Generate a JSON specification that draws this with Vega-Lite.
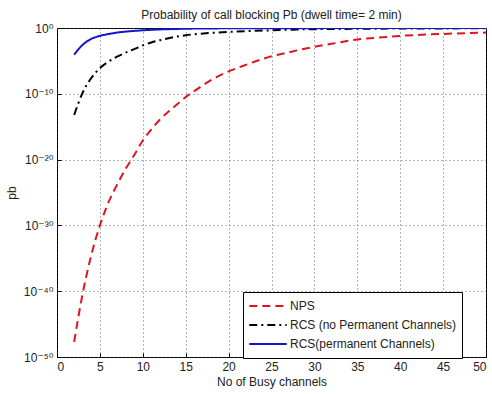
{
  "$schema": "https://vega.github.io/schema/vega-lite/v6.json",
  "autosize": "none",
  "width": 429,
  "height": 329,
  "padding": {"left": 57, "top": 28, "right": 6, "bottom": 37},
  "background": "white",
  "config": {
    "font": "Liberation Sans",
    "view": {"stroke": "black", "strokeWidth": 1},
    "axis": {
      "labelFont": "Liberation Sans, DejaVu Sans",
      "labelFontSize": 12,
      "labelColor": "#222",
      "titleFont": "Liberation Sans",
      "titleFontSize": 12,
      "titleFontWeight": "normal",
      "titleColor": "#222",
      "domain": false,
      "grid": true,
      "gridColor": "#444",
      "gridDash": [1, 3],
      "gridOpacity": 0.8,
      "tickColor": "black",
      "tickSize": -4,
      "labelPadding": 8
    }
  },
  "title": {
    "text": "Probability of call blocking Pb (dwell time= 2 min)",
    "fontSize": 12,
    "fontWeight": "normal",
    "font": "Liberation Sans",
    "color": "#222",
    "offset": 0
  },
  "data": {
    "values": [
      {"x": 2, "pb": 2.0e-48, "series": "NPS"},
      {"x": 3, "pb": 5.0e-41, "series": "NPS"},
      {"x": 4, "pb": 3.16e-35, "series": "NPS"},
      {"x": 5, "pb": 1.0e-30, "series": "NPS"},
      {"x": 6, "pb": 3.16e-27, "series": "NPS"},
      {"x": 7, "pb": 1.58e-24, "series": "NPS"},
      {"x": 8, "pb": 3.98e-22, "series": "NPS"},
      {"x": 9, "pb": 5.0e-20, "series": "NPS"},
      {"x": 10, "pb": 7.94e-18, "series": "NPS"},
      {"x": 11, "pb": 3.98e-16, "series": "NPS"},
      {"x": 12, "pb": 1.26e-14, "series": "NPS"},
      {"x": 13, "pb": 2.0e-13, "series": "NPS"},
      {"x": 14, "pb": 2.51e-12, "series": "NPS"},
      {"x": 15, "pb": 3.16e-11, "series": "NPS"},
      {"x": 16, "pb": 2.51e-10, "series": "NPS"},
      {"x": 17, "pb": 2.0e-9, "series": "NPS"},
      {"x": 18, "pb": 1.26e-8, "series": "NPS"},
      {"x": 19, "pb": 6.31e-8, "series": "NPS"},
      {"x": 20, "pb": 2.51e-7, "series": "NPS"},
      {"x": 22, "pb": 2.51e-6, "series": "NPS"},
      {"x": 24, "pb": 2.0e-5, "series": "NPS"},
      {"x": 25, "pb": 5.01e-5, "series": "NPS"},
      {"x": 26, "pb": 1.0e-4, "series": "NPS"},
      {"x": 28, "pb": 3.98e-4, "series": "NPS"},
      {"x": 30, "pb": 1.41e-3, "series": "NPS"},
      {"x": 32, "pb": 3.98e-3, "series": "NPS"},
      {"x": 35, "pb": 1.78e-2, "series": "NPS"},
      {"x": 38, "pb": 3.98e-2, "series": "NPS"},
      {"x": 40, "pb": 6.31e-2, "series": "NPS"},
      {"x": 43, "pb": 0.1, "series": "NPS"},
      {"x": 45, "pb": 0.126, "series": "NPS"},
      {"x": 48, "pb": 0.17, "series": "NPS"},
      {"x": 50, "pb": 0.2, "series": "NPS"},
      {"x": 2, "pb": 6.31e-14, "series": "RCS (no Permanent Channels)"},
      {"x": 3, "pb": 1.58e-10, "series": "RCS (no Permanent Channels)"},
      {"x": 4, "pb": 2.51e-8, "series": "RCS (no Permanent Channels)"},
      {"x": 5, "pb": 7.94e-7, "series": "RCS (no Permanent Channels)"},
      {"x": 6, "pb": 7.94e-6, "series": "RCS (no Permanent Channels)"},
      {"x": 7, "pb": 4.47e-5, "series": "RCS (no Permanent Channels)"},
      {"x": 8, "pb": 1.78e-4, "series": "RCS (no Permanent Channels)"},
      {"x": 9, "pb": 6.31e-4, "series": "RCS (no Permanent Channels)"},
      {"x": 10, "pb": 2.24e-3, "series": "RCS (no Permanent Channels)"},
      {"x": 11, "pb": 6.31e-3, "series": "RCS (no Permanent Channels)"},
      {"x": 12, "pb": 1.41e-2, "series": "RCS (no Permanent Channels)"},
      {"x": 13, "pb": 2.82e-2, "series": "RCS (no Permanent Channels)"},
      {"x": 14, "pb": 5.01e-2, "series": "RCS (no Permanent Channels)"},
      {"x": 15, "pb": 7.94e-2, "series": "RCS (no Permanent Channels)"},
      {"x": 16, "pb": 0.112, "series": "RCS (no Permanent Channels)"},
      {"x": 18, "pb": 0.178, "series": "RCS (no Permanent Channels)"},
      {"x": 20, "pb": 0.251, "series": "RCS (no Permanent Channels)"},
      {"x": 22, "pb": 0.331, "series": "RCS (no Permanent Channels)"},
      {"x": 25, "pb": 0.447, "series": "RCS (no Permanent Channels)"},
      {"x": 28, "pb": 0.603, "series": "RCS (no Permanent Channels)"},
      {"x": 30, "pb": 0.661, "series": "RCS (no Permanent Channels)"},
      {"x": 35, "pb": 0.759, "series": "RCS (no Permanent Channels)"},
      {"x": 40, "pb": 0.832, "series": "RCS (no Permanent Channels)"},
      {"x": 45, "pb": 0.871, "series": "RCS (no Permanent Channels)"},
      {"x": 50, "pb": 0.891, "series": "RCS (no Permanent Channels)"},
      {"x": 2, "pb": 8.91e-5, "series": "RCS(permanent Channels)"},
      {"x": 3, "pb": 2.82e-3, "series": "RCS(permanent Channels)"},
      {"x": 4, "pb": 2.24e-2, "series": "RCS(permanent Channels)"},
      {"x": 5, "pb": 6.31e-2, "series": "RCS(permanent Channels)"},
      {"x": 6, "pb": 0.12, "series": "RCS(permanent Channels)"},
      {"x": 7, "pb": 0.2, "series": "RCS(permanent Channels)"},
      {"x": 8, "pb": 0.282, "series": "RCS(permanent Channels)"},
      {"x": 9, "pb": 0.363, "series": "RCS(permanent Channels)"},
      {"x": 10, "pb": 0.447, "series": "RCS(permanent Channels)"},
      {"x": 12, "pb": 0.603, "series": "RCS(permanent Channels)"},
      {"x": 14, "pb": 0.724, "series": "RCS(permanent Channels)"},
      {"x": 16, "pb": 0.813, "series": "RCS(permanent Channels)"},
      {"x": 20, "pb": 0.891, "series": "RCS(permanent Channels)"},
      {"x": 30, "pb": 0.955, "series": "RCS(permanent Channels)"},
      {"x": 50, "pb": 0.977, "series": "RCS(permanent Channels)"}
    ]
  },
  "mark": {"type": "line", "interpolate": "monotone", "strokeWidth": 2, "clip": true},
  "encoding": {
    "x": {
      "field": "x",
      "type": "quantitative",
      "scale": {"domain": [0, 50], "nice": false},
      "axis": {"values": [0, 5, 10, 15, 20, 25, 30, 35, 40, 45, 50], "title": "No of Busy channels", "titlePadding": 4}
    },
    "y": {
      "field": "pb",
      "type": "quantitative",
      "scale": {"type": "log", "domain": [1e-50, 1], "nice": false},
      "axis": {
        "values": [1e-50, 1e-40, 1e-30, 1e-20, 1e-10, 1],
        "labelExpr": "datum.value >= 0.5 ? '10⁰' : datum.value > 1e-15 ? '10⁻¹⁰' : datum.value > 1e-25 ? '10⁻²⁰' : datum.value > 1e-35 ? '10⁻³⁰' : datum.value > 1e-45 ? '10⁻⁴⁰' : '10⁻⁵⁰'",
        "title": "pb",
        "titlePadding": 5
      }
    },
    "color": {
      "field": "series",
      "type": "nominal",
      "scale": {
        "domain": ["NPS", "RCS (no Permanent Channels)", "RCS(permanent Channels)"],
        "range": ["#e0141e", "#000000", "#1414d0"]
      },
      "legend": {
        "title": null,
        "orient": "none",
        "legendX": 186,
        "legendY": 264,
        "fillColor": "white",
        "strokeColor": "black",
        "padding": 5,
        "symbolType": "stroke",
        "symbolSize": 1400,
        "symbolStrokeWidth": 2,
        "clipHeight": 18,
        "rowPadding": 1,
        "labelFontSize": 12,
        "labelFont": "Liberation Sans",
        "labelColor": "#222",
        "labelOffset": 2,
        "labelLimit": 300
      }
    },
    "strokeDash": {
      "field": "series",
      "type": "nominal",
      "scale": {
        "domain": ["NPS", "RCS (no Permanent Channels)", "RCS(permanent Channels)"],
        "range": [[8, 5], [8, 4, 2, 4], [1, 0]]
      },
      "legend": null
    }
  }
}
